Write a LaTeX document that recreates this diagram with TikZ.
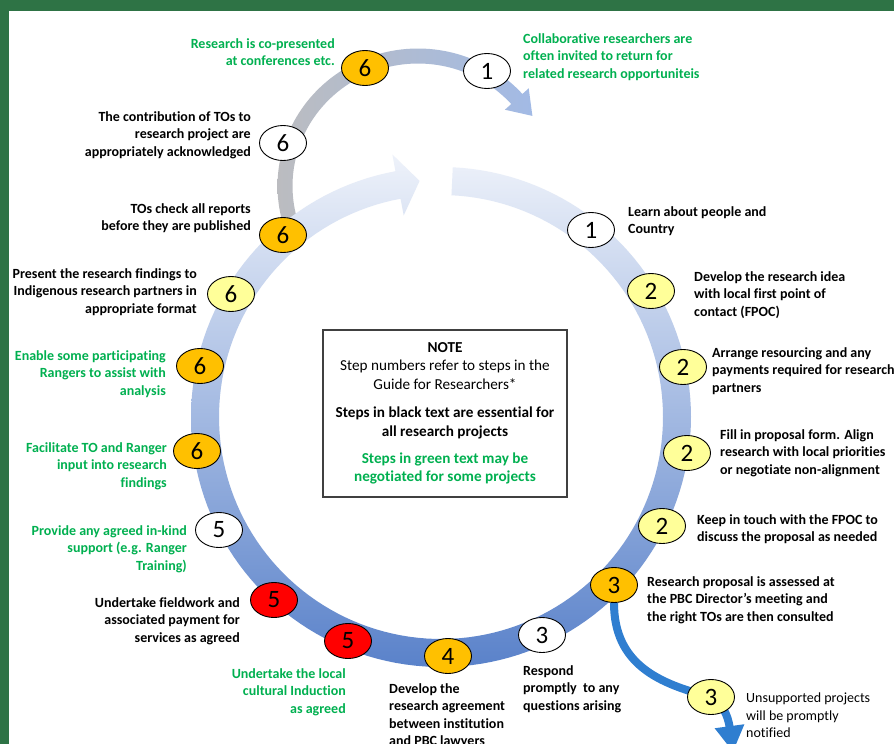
\documentclass[tikz,border=0pt]{standalone}
\usepackage{fontspec}
\setmainfont{Carlito}[Ligatures=NoCommon]
\usetikzlibrary{shapes.geometric,arrows.meta}

\definecolor{framegreen}{HTML}{2E7345}
\definecolor{stepgreen}{HTML}{00B050}
\definecolor{goldfill}{HTML}{FFC000}
\definecolor{palefill}{HTML}{FFFF99}
\definecolor{redfill}{HTML}{FF0000}
\definecolor{ringtop}{HTML}{EEF2FA}
\definecolor{ringbot}{HTML}{5A82CA}
\definecolor{arcgrey}{HTML}{BBBCC0}
\definecolor{arcblue}{HTML}{A2BAE5}
\definecolor{flowblue}{HTML}{2F7ED0}
\definecolor{boxedge}{HTML}{404040}

\pgfdeclarelayer{base}
\pgfdeclarelayer{flow}
\pgfsetlayers{base,flow,main}

\begin{document}
\begin{tikzpicture}[x=1pt,y=-1pt,
  badge/.style={ellipse, draw=black, line width=0.9pt, minimum width=47pt,
    minimum height=35pt, inner sep=0pt, font=\fontsize{25}{25}\selectfont},
  goldbadge/.style={badge, fill=goldfill},
  palebadge/.style={badge, fill=palefill},
  whitebadge/.style={badge, fill=white},
  redbadge/.style={badge, fill=redfill},
  lbl/.style={inner sep=0pt, font=\fontsize{14}{17.5}\selectfont\bfseries},
  lblR/.style={lbl, align=right, anchor=north east},
  lblL/.style={lbl, align=left, anchor=north west},
  opt/.style={text=stepgreen}]

\useasboundingbox (0,0) rectangle (894,744);

\begin{pgfonlayer}{base}
\fill[white] (0,0) rectangle (894,744);
% frame strips
\fill[framegreen] (0,0) rectangle (894,11);
\fill[framegreen] (0,0) rectangle (9,744);

% grey return arc with its arrow head
\shade[left color=arcgrey, right color=arcblue]
  plot[domain=163:318, samples=80] ({418+140.5*cos(\x)}, {186+137.5*sin(\x)})
  -- (528.7,88.3) -- (532.4,115.9) -- (504.9,109.7)
  -- plot[domain=163:318, samples=80] ({418+125.5*cos(481-\x)}, {186+122.5*sin(481-\x)})
  -- cycle;

% main cycle ring with its arrow head
\shade[top color=ringtop, bottom color=ringbot]
  plot[domain=272.7:619.5, samples=160] ({441+250*cos(\x)}, {417+250*sin(\x)})
  -- (392.4,154.5) -- (419.6,180.9) -- (403.7,215.4)
  -- plot[domain=272.7:619.5, samples=160] ({441+222*cos(892.2-\x)}, {417+222*sin(892.2-\x)})
  -- cycle;
\end{pgfonlayer}

% note box
\node[draw=boxedge, line width=1.3pt, minimum width=244pt, minimum height=167pt,
  align=center, inner sep=0pt, font=\fontsize{15.2}{18.5}\selectfont] (note) at (445,413.5)
  {{\bfseries NOTE}\\
   Step numbers refer to steps in the\\
   Guide for Researchers*\\[10pt]
   {\bfseries Steps in black text are essential for}\\
   {\bfseries all research projects}\\[8.5pt]
   {\bfseries\color{stepgreen} Steps in green text may be}\\
   {\bfseries\color{stepgreen} negotiated for some projects}};

% badges
\node[goldbadge]  (b6conf)   at (365,68)  {6};
\node[whitebadge] (b1ret)    at (487,71)  {1};
\node[whitebadge] (b6ack)    at (283,143) {6};
\node[goldbadge]  (b6chk)    at (283,235) {6};
\node[palebadge]  (b6pres)   at (231,294) {6};
\node[goldbadge]  (b6enab)   at (200,366) {6};
\node[goldbadge]  (b6fac)    at (197,451) {6};
\node[whitebadge] (b5kind)   at (219,530) {5};
\node[redbadge]   (b5field)  at (274,600) {5};
\node[redbadge]   (b5ind)    at (348,641) {5};
\node[goldbadge]  (b4agr)    at (448,656) {4};
\node[whitebadge] (b3resp)   at (542,635) {3};
\node[goldbadge]  (b3assess) at (614,585) {3};
\node[palebadge]  (b3unsup)  at (711,697) {3};
\node[palebadge]  (b2keep)   at (662,526) {2};
\node[palebadge]  (b2fill)   at (687,453) {2};
\node[palebadge]  (b2arr)    at (683,367) {2};
\node[palebadge]  (b2dev)    at (651,291) {2};
\node[whitebadge] (b1learn)  at (591,230) {1};

% branch for unsupported projects, passing under its badge
\coordinate (flowend) at (733,752);
\begin{pgfonlayer}{flow}
\draw[line width=8pt, flowblue, -{Triangle[length=26pt,width=28pt]}]
  (b3assess.south) .. controls (614,665) and (660,684) .. (b3unsup.center)
  .. controls (722,703) and (728,715) .. (flowend);
\end{pgfonlayer}

% step labels
\node[lblR, opt] (tconf) at (335,38)  {Research is co-presented\\at conferences etc.};
\node[lblL, opt] (tret)  at (523,33)  {Collaborative researchers are\\often invited to return for\\related research opportuniteis};
\node[lblR] (tack)  at (251,111) {The contribution of TOs to\\research project are\\appropriately acknowledged};
\node[lblR] (tchk)  at (251,203) {TOs check all reports\\before they are published};
\node[lblR] (tpres) at (197,268) {Present the research findings to\\Indigenous research partners in\\appropriate format};
\node[lblR, opt] (tenab) at (166,350) {Enable some participating\\Rangers to assist with\\analysis};
\node[lblR, opt] (tfac)  at (167,442) {Facilitate TO and Ranger\\input into research\\findings};
\node[lblR, opt] (tkind) at (187,525) {Provide any agreed in-kind\\support (e.g. Ranger\\Training)};
\node[lblR] (tfield) at (240,597) {Undertake fieldwork and\\associated payment for\\services as agreed};
\node[lblR, opt] (tind) at (346,668) {Undertake the local\\cultural Induction\\as agreed};
\node[lblL] (tagr)  at (389,683) {Develop the\\research agreement\\between institution\\and PBC lawyers};
\node[lblL] (tresp) at (523,665) {Respond\\promptly~ to any\\questions arising};
\node[lblL] (tassess) at (647,576) {Research proposal is assessed at\\the PBC Director’s meeting and\\the right TOs are then consulted};
\node[lblL, font=\fontsize{14}{17.5}\selectfont] (tunsup) at (746,693) {Unsupported projects\\will be promptly\\notified};
\node[lblL] (tkeep) at (697,514) {Keep in touch with the FPOC to\\discuss the proposal as needed};
\node[lblL] (tfill) at (720,429) {Fill in proposal form. Align\\research with local priorities\\or negotiate non-alignment};
\node[lblL] (tarr)  at (712,347) {Arrange resourcing and any\\payments required for research\\partners};
\node[lblL] (tdev)  at (694,271) {Develop the research idea\\with local first point of\\contact (FPOC)};
\node[lblL] (tlearn) at (628,206) {Learn about people and\\Country};
\end{tikzpicture}
\end{document}
